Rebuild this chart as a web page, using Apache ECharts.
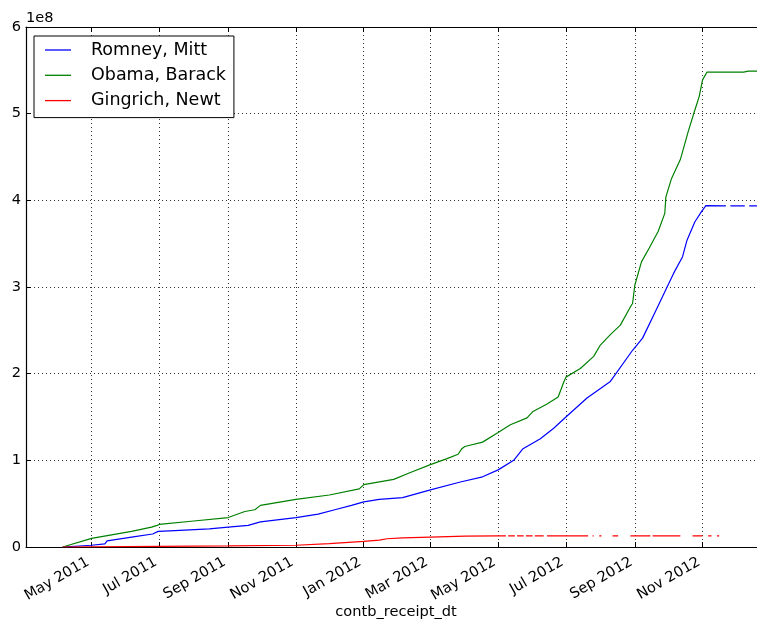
<!DOCTYPE html>
<html>
<head>
<meta charset="utf-8">
<title>Cumulative contributions</title>
<script src="https://cdn.jsdelivr.net/npm/echarts@6/dist/echarts.min.js"></script>
<style>
  html, body { margin: 0; padding: 0; background: #fff; }
  #chart { width: 757px; height: 626px; }
</style>
</head>
<body>
<div id="chart"></div>
<script>
// x axis range + tick positions (first day of every other month)
const xMin = '2011-03-03';
const xMax = '2012-12-20';
const tickDates = ['2011-05-01', '2011-07-01', '2011-09-01', '2011-11-01', '2012-01-01',
  '2012-03-01', '2012-05-01', '2012-07-01', '2012-09-01', '2012-11-01'];
const monthNames = ['Jan', 'Feb', 'Mar', 'Apr', 'May', 'Jun', 'Jul', 'Aug', 'Sep', 'Oct', 'Nov', 'Dec'];
const yTicks = [0, 1, 2, 3, 4, 5, 6]; // units of 1e8

// cumulative sums, in 1e8 dollars (null = no data that day)
const romneyDates = ['2011-04-05', '2011-05-01', '2011-05-13', '2011-05-15', '2011-06-09', '2011-06-25',
  '2011-06-30', '2011-07-15', '2011-08-15', '2011-09-01', '2011-09-19', '2011-09-30', '2011-11-01',
  '2011-11-21', '2011-12-06', '2011-12-21', '2012-01-01', '2012-01-15', '2012-02-05', '2012-03-01',
  '2012-03-28', '2012-04-17', '2012-05-01', '2012-05-15', '2012-05-23', '2012-06-08', '2012-06-20',
  '2012-07-01', '2012-07-20', '2012-08-10', '2012-08-30', '2012-09-08', '2012-09-20', '2012-09-29',
  '2012-10-06', '2012-10-14', '2012-10-18', '2012-10-25', '2012-10-31', '2012-11-04', '2012-11-22',
  '2012-11-24', '2012-11-26', '2012-12-09', '2012-12-11', '2012-12-13', '2012-12-20'];
const romneyValues = [0, 0.02, 0.035, 0.07, 0.12, 0.15,
  0.18, 0.19, 0.21, 0.23, 0.25, 0.29, 0.34,
  0.38, 0.43, 0.48, 0.52, 0.55, 0.57, 0.66,
  0.75, 0.81, 0.89, 1.00, 1.13, 1.25, 1.37,
  1.50, 1.72, 1.91, 2.27, 2.41, 2.73, 2.97,
  3.16, 3.35, 3.54, 3.75, 3.87, 3.94, 3.935,
  null, 3.935, 3.935, null, 3.935, 3.935];

const obamaDates = ['2011-04-05', '2011-05-01', '2011-05-19', '2011-06-06', '2011-06-24', '2011-06-29',
  '2011-07-01', '2011-08-01', '2011-09-01', '2011-09-16', '2011-09-25', '2011-09-30', '2011-11-01',
  '2011-12-01', '2011-12-28', '2012-01-01', '2012-01-28', '2012-02-12', '2012-03-01', '2012-03-16',
  '2012-03-26', '2012-03-29', '2012-04-01', '2012-04-17', '2012-05-01', '2012-05-12', '2012-05-27',
  '2012-06-01', '2012-06-14', '2012-06-24', '2012-06-29', '2012-07-01', '2012-07-14', '2012-07-26',
  '2012-08-01', '2012-08-10', '2012-08-19', '2012-08-28', '2012-08-30', '2012-09-01', '2012-09-07',
  '2012-09-14', '2012-09-22', '2012-09-28', '2012-09-29', '2012-10-04', '2012-10-12', '2012-10-19',
  '2012-10-25', '2012-10-29', '2012-11-01', '2012-11-05', '2012-12-08', '2012-12-12', '2012-12-20'];
const obamaValues = [0, 0.10, 0.14, 0.18, 0.23, 0.25,
  0.26, 0.30, 0.34, 0.41, 0.43, 0.48, 0.55,
  0.60, 0.67, 0.72, 0.78, 0.86, 0.95, 1.02,
  1.07, 1.13, 1.16, 1.21, 1.32, 1.41, 1.49,
  1.56, 1.65, 1.73, 1.90, 1.96, 2.06, 2.20,
  2.33, 2.45, 2.56, 2.77, 2.81, 3.02, 3.29,
  3.45, 3.64, 3.85, 4.04, 4.25, 4.47, 4.79,
  5.04, 5.20, 5.39, 5.48, 5.48, 5.49, 5.49];

const gingrichDates = ['2011-04-05', '2011-06-01', '2011-09-01', '2011-11-01', '2011-12-01', '2012-01-01',
  '2012-01-15', '2012-01-22', '2012-02-05', '2012-03-01', '2012-04-01', '2012-05-01', '2012-05-08',
  '2012-05-09', '2012-05-10', '2012-05-16', '2012-05-17', '2012-05-18', '2012-05-24', '2012-05-25',
  '2012-05-26', '2012-06-01', '2012-06-02', '2012-06-03', '2012-06-11', '2012-06-12', '2012-06-14',
  '2012-07-21', '2012-07-23', '2012-07-25', '2012-07-26', '2012-07-28', '2012-07-31', '2012-08-02',
  '2012-08-05', '2012-08-12', '2012-08-17', '2012-08-22', '2012-08-28', '2012-09-15', '2012-09-16',
  '2012-09-17', '2012-10-12', '2012-10-17', '2012-10-23', '2012-11-01', '2012-11-03', '2012-11-06',
  '2012-11-09', '2012-11-11', '2012-11-14', '2012-11-16'];
const gingrichValues = [0, 0.005, 0.012, 0.02, 0.04, 0.065,
  0.08, 0.095, 0.105, 0.115, 0.125, 0.128, 0.128,
  null, 0.128, 0.128, null, 0.128, 0.128, null,
  0.128, 0.128, null, 0.128, 0.128, null, 0.128,
  0.128, null, 0.128, 0.128, null, 0.128, 0.128,
  null, 0.128, 0.128, null, 0.128, 0.128, null,
  0.128, 0.128, null, 0.128, 0.128, null, 0.128,
  0.128, null, 0.128, 0.128];

const toTime = (s) => {
  const [y, m, d] = s.split('-').map(Number);
  return new Date(y, m - 1, d).getTime();
};
const pairs = (dates, values) => dates.map((d, i) => [toTime(d), values[i]]);
const tickTimes = tickDates.map(toTime);

const FONT = 'DejaVu Sans';
const chart = echarts.init(document.getElementById('chart'), null, { renderer: 'canvas' });

const lineSeries = (name, color, data) => ({
  name,
  type: 'line',
  data,
  showSymbol: false,
  connectNulls: false,
  lineStyle: { color, width: 1.2 },
  itemStyle: { color },
  emphasis: { disabled: true },
});

// x is a plain value axis holding timestamps, so ticks can sit on custom dates
chart.setOption({
  animation: false,
  backgroundColor: '#fff',
  grid: { left: 26, right: 0, top: 27, bottom: 79 },
  xAxis: [
    {
      type: 'value',
      min: toTime(xMin),
      max: toTime(xMax),
      axisLine: { show: true, onZero: false, lineStyle: { color: '#000', width: 1.2 } },
      axisTick: { show: true, inside: true, length: 5, customValues: tickTimes, lineStyle: { color: '#000' } },
      axisLabel: {
        customValues: tickTimes,
        rotate: 30,
        margin: 12,
        padding: [0, 4, 0, 0],
        color: '#000',
        fontFamily: FONT,
        fontSize: 14.6,
        formatter: (v) => {
          const d = new Date(v);
          return monthNames[d.getMonth()] + ' ' + d.getFullYear();
        },
      },
      splitLine: { show: true, lineStyle: { color: '#333', width: 1, type: [1, 3] } },
    },
    {
      // top frame of the axes box
      type: 'value',
      position: 'top',
      min: toTime(xMin),
      max: toTime(xMax),
      axisLine: { show: true, onZero: false, lineStyle: { color: '#000', width: 1.2 } },
      axisTick: { show: true, inside: true, length: 5, customValues: tickTimes, lineStyle: { color: '#000' } },
      axisLabel: { show: false },
      splitLine: { show: false },
    },
  ],
  yAxis: {
    type: 'value',
    min: yTicks[0],
    max: yTicks[yTicks.length - 1],
    interval: 1,
    axisLine: { show: true, lineStyle: { color: '#000', width: 1.2 } },
    axisTick: { show: true, inside: true, length: 5, lineStyle: { color: '#000' } },
    axisLabel: { color: '#000', fontFamily: FONT, fontSize: 14.6, margin: 5 },
    splitLine: { show: true, lineStyle: { color: '#333', width: 1, type: [1, 3] } },
  },
  legend: {
    orient: 'vertical',
    left: 34,
    top: 36,
    padding: [4, 8, 7, 11],
    itemGap: 5.3,
    itemWidth: 26,
    itemHeight: 1.3,
    icon: 'rect',
    backgroundColor: '#fff',
    borderColor: '#000',
    borderWidth: 1,
    borderRadius: 0,
    selectedMode: false,
    textStyle: { color: '#000', fontFamily: FONT, fontSize: 17.5, lineHeight: 20, padding: [0, 0, 0, 15] },
    data: ['Romney, Mitt', 'Obama, Barack', 'Gingrich, Newt'],
  },
  graphic: [
    {
      type: 'text',
      left: 26,
      top: 11,
      style: { text: '1e8', fill: '#000', font: '14.6px "DejaVu Sans"' },
    },
    {
      type: 'text',
      style: {
        x: 396, y: 612, text: 'contb_receipt_dt', fill: '#000',
        font: '14.6px "DejaVu Sans"', align: 'center', verticalAlign: 'middle',
      },
    },
  ],
  series: [
    lineSeries('Romney, Mitt', '#0000ff', pairs(romneyDates, romneyValues)),
    lineSeries('Obama, Barack', '#008000', pairs(obamaDates, obamaValues)),
    lineSeries('Gingrich, Newt', '#ff0000', pairs(gingrichDates, gingrichValues)),
  ],
});
</script>
</body>
</html>
